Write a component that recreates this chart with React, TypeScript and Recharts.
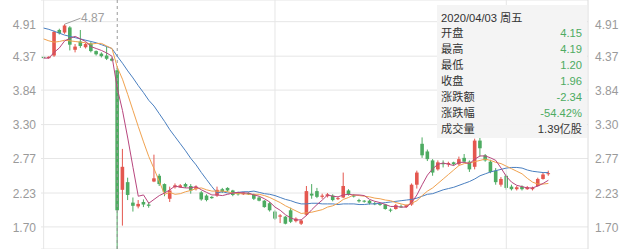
import React from "react";
import {
  ComposedChart,
  Bar,
  Line,
  XAxis,
  YAxis,
  CartesianGrid,
  ReferenceLine,
} from "recharts";

// Trading days shown in the window
const dates = [
  "2020/03/16", "2020/03/17", "2020/03/18", "2020/03/19", "2020/03/20",
  "2020/03/23", "2020/03/24", "2020/03/25", "2020/03/26", "2020/03/27",
  "2020/03/30", "2020/03/31", "2020/04/01", "2020/04/02", "2020/04/03",
  "2020/04/07", "2020/04/08", "2020/04/09", "2020/04/10",
  "2020/04/13", "2020/04/14", "2020/04/15", "2020/04/16", "2020/04/17",
  "2020/04/20", "2020/04/21", "2020/04/22", "2020/04/23", "2020/04/24",
  "2020/04/27", "2020/04/28", "2020/04/29", "2020/04/30",
  "2020/05/06", "2020/05/07", "2020/05/08",
  "2020/05/11", "2020/05/12", "2020/05/13", "2020/05/14", "2020/05/15",
  "2020/05/18", "2020/05/19", "2020/05/20", "2020/05/21", "2020/05/22",
  "2020/05/25", "2020/05/26", "2020/05/27", "2020/05/28", "2020/05/29",
  "2020/06/01", "2020/06/02", "2020/06/03", "2020/06/04", "2020/06/05",
  "2020/06/08", "2020/06/09", "2020/06/10", "2020/06/11", "2020/06/12",
  "2020/06/15", "2020/06/16", "2020/06/17", "2020/06/18", "2020/06/19",
  "2020/06/22", "2020/06/23", "2020/06/24",
  "2020/06/29", "2020/06/30", "2020/07/01", "2020/07/02", "2020/07/03",
  "2020/07/06", "2020/07/07", "2020/07/08", "2020/07/09", "2020/07/10",
  "2020/07/13", "2020/07/14", "2020/07/15", "2020/07/16", "2020/07/17",
  "2020/07/20", "2020/07/21", "2020/07/22", "2020/07/23", "2020/07/24",
  "2020/07/27", "2020/07/28", "2020/07/29", "2020/07/30", "2020/07/31",
  "2020/08/03", "2020/08/04", "2020/08/05",
];

const opens = [
  4.36, 4.34, 4.38, 4.78, 4.74, 4.82, 4.47, 4.6, 4.51, 4.57,
  4.45, 4.41, 4.38, 4.33, 4.15, 2.28, 2.4, 2.08, 2.02, 2.09,
  2.05, 2.41, 2.5, 2.37, 2.14, 2.32, 2.32, 2.37, 2.34, 2.29,
  2.24, 2.19, 2.17, 2.19, 2.29, 2.31, 2.27, 2.24, 2.21, 2.23,
  2.21, 2.16, 2.11, 2.07, 1.94, 1.86, 1.86, 1.96, 1.79, 1.75,
  1.89, 2.22, 2.26, 2.17, 2.18, 2.19, 2.14, 2.16, 2.27, 2.19,
  2.12, 2.11, 2.11, 2.07, 2.06, 2.05, 1.97, 1.98, 2.02, 2.01,
  2.05, 2.36, 3.0, 2.88, 2.74, 2.6, 2.7, 2.68, 2.71, 2.68,
  2.78, 2.72, 2.64, 3.05, 2.82, 2.72, 2.58, 2.36, 2.5, 2.33,
  2.29, 2.33, 2.29, 2.29, 2.34, 2.45, 2.53,
];

const highs = [
  4.37, 4.37, 4.77, 4.8, 4.87, 4.84, 4.56, 4.78, 4.58, 4.59,
  4.46, 4.43, 4.52, 4.35, 4.19, 2.92, 2.47, 2.16, 2.12, 2.13,
  2.09, 2.83, 2.53, 2.38, 2.33, 2.38, 2.37, 2.39, 2.37, 2.35,
  2.26, 2.21, 2.18, 2.33, 2.31, 2.32, 2.28, 2.25, 2.25, 2.24,
  2.22, 2.18, 2.12, 2.09, 1.96, 1.9, 1.87, 2.0, 1.85, 1.82,
  2.34, 2.37, 2.31, 2.22, 2.23, 2.21, 2.17, 2.55, 2.29, 2.21,
  2.14, 2.12, 2.12, 2.09, 2.08, 2.06, 1.99, 2.06, 2.05, 2.05,
  2.38, 2.58, 3.1, 2.91, 2.76, 2.74, 2.74, 2.72, 2.72, 2.8,
  2.84, 2.74, 3.08, 3.1, 2.84, 2.75, 2.62, 2.48, 2.53, 2.36,
  2.34, 2.35, 2.34, 2.33, 2.47, 2.55, 2.58,
];

const lows = [
  4.33, 4.33, 4.36, 4.71, 4.72, 4.46, 4.43, 4.5, 4.49, 4.43,
  4.38, 4.35, 4.31, 4.29, 1.2, 1.72, 2.12, 1.94, 1.99, 2.01,
  2.0, 2.4, 2.34, 2.18, 2.09, 2.3, 2.31, 2.31, 2.22, 2.27,
  2.11, 2.1, 2.14, 2.17, 2.23, 2.25, 2.18, 2.19, 2.2, 2.2,
  2.12, 2.1, 2.0, 1.94, 1.81, 1.76, 1.74, 1.76, 1.77, 1.73,
  1.87, 2.14, 2.15, 2.14, 2.16, 2.1, 2.12, 2.15, 2.19, 2.16,
  2.08, 2.08, 2.05, 2.04, 2.03, 1.97, 1.93, 1.97, 2.0, 2.0,
  2.03, 2.3, 2.78, 2.73, 2.5, 2.58, 2.63, 2.64, 2.66, 2.66,
  2.7, 2.56, 2.6, 2.8, 2.72, 2.54, 2.36, 2.33, 2.28, 2.27,
  2.27, 2.27, 2.28, 2.27, 2.33, 2.44, 2.5,
];

const closes = [
  4.34, 4.36, 4.75, 4.73, 4.85, 4.55, 4.52, 4.53, 4.56, 4.45,
  4.4, 4.37, 4.33, 4.3, 1.96, 2.64, 2.2, 2.03, 2.06, 2.05,
  2.03, 2.46, 2.37, 2.25, 2.27, 2.35, 2.35, 2.33, 2.27, 2.33,
  2.13, 2.12, 2.15, 2.28, 2.25, 2.27, 2.2, 2.21, 2.24, 2.21,
  2.14, 2.11, 2.01, 1.96, 1.83, 1.88, 1.75, 1.78, 1.83, 1.8,
  2.26, 2.19, 2.17, 2.19, 2.21, 2.12, 2.15, 2.34, 2.21, 2.18,
  2.1, 2.1, 2.07, 2.06, 2.05, 1.98, 1.96, 2.04, 2.01, 2.04,
  2.36, 2.55, 2.82, 2.76, 2.55, 2.71, 2.68, 2.7, 2.68, 2.76,
  2.72, 2.6, 3.05, 2.93, 2.74, 2.56, 2.4, 2.45, 2.31, 2.29,
  2.32, 2.29, 2.32, 2.31, 2.45, 2.52, 2.54,
];

const ma5 = [
  4.34, 4.34, 4.43, 4.5, 4.61, 4.65, 4.68, 4.64, 4.6, 4.52,
  4.49, 4.46, 4.42, 4.37, 3.87, 3.52, 3.09, 2.63, 2.18, 2.2,
  2.07, 2.13, 2.19, 2.23, 2.28, 2.34, 2.32, 2.31, 2.31, 2.33,
  2.28, 2.24, 2.2, 2.2, 2.19, 2.21, 2.23, 2.24, 2.23, 2.23,
  2.2, 2.18, 2.14, 2.09, 2.01, 1.96, 1.89, 1.84, 1.81, 1.81,
  1.88, 1.97, 2.05, 2.12, 2.2, 2.18, 2.17, 2.2, 2.21, 2.2,
  2.2, 2.19, 2.13, 2.1, 2.08, 2.05, 2.02, 2.02, 2.01, 2.01,
  2.08, 2.2, 2.36, 2.51, 2.61, 2.68, 2.7, 2.68, 2.66, 2.71,
  2.71, 2.69, 2.76, 2.81, 2.81, 2.78, 2.74, 2.62, 2.49, 2.4,
  2.35, 2.33, 2.31, 2.31, 2.34, 2.38, 2.43,
];

const ma10 = [
  4.64, 4.61, 4.59, 4.6, 4.62, 4.61, 4.6, 4.59, 4.58, 4.56,
  4.57, 4.57, 4.53, 4.49, 4.2, 4.01, 3.77, 3.52, 3.27, 3.03,
  2.8, 2.61, 2.41, 2.21, 2.24, 2.21, 2.22, 2.25, 2.27, 2.3,
  2.31, 2.28, 2.26, 2.26, 2.26, 2.25, 2.23, 2.22, 2.22, 2.21,
  2.21, 2.21, 2.19, 2.16, 2.12, 2.08, 2.03, 1.99, 1.95, 1.91,
  1.92, 1.93, 1.95, 1.97, 2.01, 2.03, 2.07, 2.13, 2.16, 2.2,
  2.19, 2.18, 2.17, 2.15, 2.14, 2.12, 2.11, 2.08, 2.06, 2.04,
  2.07, 2.11, 2.19, 2.26, 2.31, 2.38, 2.45, 2.52, 2.59, 2.66,
  2.69, 2.7, 2.72, 2.74, 2.76, 2.74, 2.71, 2.69, 2.65, 2.61,
  2.57, 2.53, 2.46, 2.4, 2.37, 2.37, 2.38,
];

const ma20 = [
  4.81, 4.79, 4.76, 4.73, 4.7, 4.68, 4.66, 4.64, 4.62, 4.6,
  4.58, 4.55, 4.52, 4.49, 4.37, 4.26, 4.14, 4.03, 3.91, 3.8,
  3.68, 3.59, 3.47, 3.35, 3.22, 3.11, 3.0, 2.89, 2.77, 2.67,
  2.55, 2.44, 2.33, 2.23, 2.25, 2.23, 2.23, 2.24, 2.25, 2.25,
  2.26, 2.24, 2.22, 2.21, 2.19, 2.16, 2.13, 2.11, 2.08, 2.06,
  2.06, 2.07, 2.07, 2.06, 2.06, 2.06, 2.05, 2.06, 2.06, 2.06,
  2.05, 2.05, 2.06, 2.06, 2.07, 2.08, 2.09, 2.1, 2.11, 2.12,
  2.13, 2.15, 2.18, 2.21, 2.22, 2.25, 2.28, 2.3, 2.32, 2.35,
  2.38, 2.41, 2.45, 2.5, 2.53, 2.56, 2.58, 2.6, 2.62, 2.63,
  2.63, 2.62, 2.59, 2.57, 2.56, 2.55, 2.55,
];

const priceTicks = [1.7, 2.23, 2.77, 3.3, 3.84, 4.37, 4.91];
const gridEvery = 44;
const selectedIndex = 14;
const selectedVolume = "1.39亿股";
const weekdayNames = ["周日", "周一", "周二", "周三", "周四", "周五", "周六"];

const UP = "#e4574f";
const DOWN = "#4dab61";
const MA5_COLOR = "#b8467e";
const MA10_COLOR = "#f0a24f";
const MA20_COLOR = "#4a7fc0";
const AXIS_TEXT = "#9a9a9a";
const GRID = "#e6e6e6";
const FONT = '"Liberation Sans", Arial, "Noto Sans CJK SC", sans-serif';

const data = dates.map((date, i) => ({
  date,
  open: opens[i],
  high: highs[i],
  low: lows[i],
  close: closes[i],
  range: [lows[i], highs[i]],
  ma5: ma5[i],
  ma10: ma10[i],
  ma20: ma20[i],
}));

const maxHigh = Math.max(...highs);

// One candlestick: wick from high to low, body from open to close.
const Candle = (props: any) => {
  const { x, y, width, height, payload } = props;
  if (!payload || height == null) return null;
  const { open, close, high, low } = payload;
  const toPx = (v: number) => y + ((high - v) / (high - low)) * height;
  const color = close >= open ? UP : DOWN;
  const cx = x + width / 2;
  const bodyW = 3.6;
  const top = toPx(Math.max(open, close));
  const bottom = toPx(Math.min(open, close));
  const bodyH = Math.max(1, bottom - top);
  return (
    <g>
      <line x1={cx} x2={cx} y1={y} y2={y + height} stroke={color} strokeWidth={1} />
      <rect x={cx - bodyW / 2} y={top} width={bodyW} height={bodyH} fill={color} />
      {high === maxHigh && (
        <g>
          <line x1={cx} y1={y} x2={cx + 16} y2={y - 6} stroke="#a0a0a0" strokeWidth={1} />
          <text
            x={cx + 16.5}
            y={y - 6}
            dy="0.35em"
            fontSize={12}
            fill="#a0a0a0"
            fontFamily={FONT}
          >
            {high.toFixed(2)}
          </text>
        </g>
      )}
    </g>
  );
};

const makeTick = (anchor: "start" | "end") => (props: any) => {
  const { x, y, payload } = props;
  const isTop = payload.value === priceTicks[priceTicks.length - 1];
  return (
    <text
      x={x}
      y={y + (isTop ? 3.3 : 0.5)}
      dy="0.36em"
      textAnchor={anchor}
      fill={AXIS_TEXT}
      fontSize={12}
      fontFamily={FONT}
    >
      {Number(payload.value).toFixed(2)}
    </text>
  );
};

const yDomain: [number, number] = [1.3545, 5.249];

export default function App() {
  const sel = data[selectedIndex];
  const prevClose = closes[selectedIndex - 1];
  const change = sel.close - prevClose;
  const pct = (change / prevClose) * 100;
  const [yy, mm, dd] = sel.date.split("/").map(Number);
  const weekday = weekdayNames[new Date(yy, mm - 1, dd).getDay()];
  const valueColor = change >= 0 ? UP : DOWN;

  const rows: [string, string, string][] = [
    ["开盘", sel.open.toFixed(2), valueColor],
    ["最高", sel.high.toFixed(2), valueColor],
    ["最低", sel.low.toFixed(2), valueColor],
    ["收盘", sel.close.toFixed(2), valueColor],
    ["涨跌额", change.toFixed(2), valueColor],
    ["涨跌幅", pct.toFixed(2) + "%", valueColor],
    ["成交量", selectedVolume, "#333"],
  ];

  const gridDates = dates.filter((_, i) => i % gridEvery === 0);

  return (
    <div
      style={{
        position: "absolute",
        left: 0,
        top: 0,
        width: 640,
        height: 249,
        overflow: "hidden",
        background: "#fff",
        fontFamily: FONT,
      }}
    >
      <ComposedChart
        width={640}
        height={249}
        data={data}
        margin={{ top: 0, right: 0, bottom: 0, left: 0 }}
      >
        <CartesianGrid vertical={false} stroke={GRID} />
        <XAxis dataKey="date" hide padding={{ left: 0, right: 37 }} />
        <YAxis
          width={41}
          domain={yDomain}
          allowDataOverflow
          ticks={priceTicks}
          axisLine={false}
          tickLine={false}
          tickSize={0}
          tickMargin={5}
          tick={makeTick("end")}
        />
        <YAxis
          yAxisId="right"
          orientation="right"
          width={52}
          domain={yDomain}
          allowDataOverflow
          ticks={priceTicks}
          axisLine={{ stroke: "#dcdcdc" }}
          tickLine={false}
          tickSize={0}
          tickMargin={7}
          tick={makeTick("start")}
        />
        {gridDates.map((d) => (
          <ReferenceLine key={d} x={d} stroke={GRID} strokeWidth={1} />
        ))}
        <ReferenceLine
          x={dates[selectedIndex]}
          stroke="#9a9a9a"
          strokeDasharray="3 3"
          strokeWidth={1}
        />
        <Bar dataKey="range" shape={<Candle />} isAnimationActive={false} />
        <Line
          type="linear"
          dataKey="ma20"
          stroke={MA20_COLOR}
          strokeWidth={1}
          dot={false}
          activeDot={false}
          isAnimationActive={false}
        />
        <Line
          type="linear"
          dataKey="ma10"
          stroke={MA10_COLOR}
          strokeWidth={1}
          dot={false}
          activeDot={false}
          isAnimationActive={false}
        />
        <Line
          type="linear"
          dataKey="ma5"
          stroke={MA5_COLOR}
          strokeWidth={1}
          dot={false}
          activeDot={false}
          isAnimationActive={false}
        />
      </ComposedChart>

      {/* tooltip panel for the selected day */}
      <div
        style={{
          position: "absolute",
          left: 437,
          top: 5,
          width: 150,
          height: 133,
          boxSizing: "border-box",
          padding: "5px 5px 0 4px",
          background: "rgba(244,244,244,0.96)",
          fontSize: 11.2,
          color: "#333",
        }}
      >
        <div style={{ height: 15, lineHeight: "16px" }}>
          {sel.date} {weekday}
        </div>
        {rows.map(([label, value, color]) => (
          <div
            key={label}
            style={{
              height: 16,
              lineHeight: "16px",
              display: "flex",
              justifyContent: "space-between",
            }}
          >
            <span>{label}</span>
            <span style={{ color }}>{value}</span>
          </div>
        ))}
      </div>
    </div>
  );
}
